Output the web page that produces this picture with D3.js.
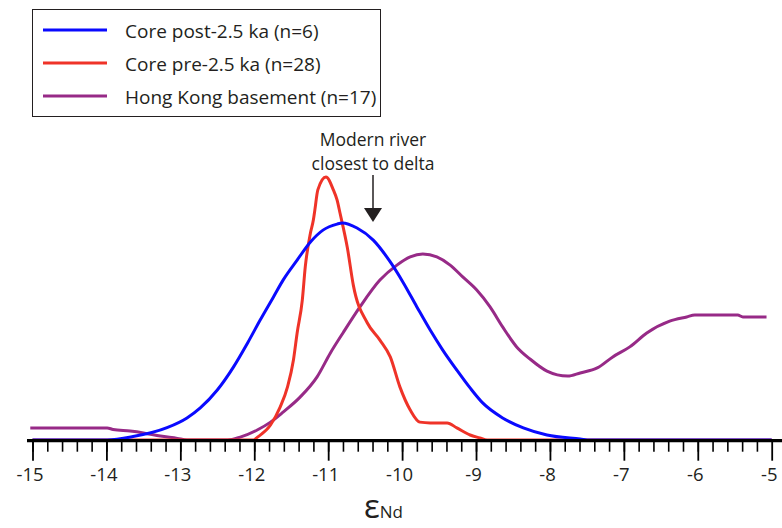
<!DOCTYPE html>
<html>
<head>
<meta charset="utf-8">
<script src="https://cdn.jsdelivr.net/npm/d3@7"></script>
<style>
  body { margin: 0; background: #fff; }
  text { font-family: "Open Sans", "DejaVu Sans", sans-serif; fill: #231f20; }
</style>
</head>
<body>
<svg id="chart" width="782" height="528"></svg>
<script>
// εNd values and relative probability density (arbitrary units, red peak = 100)
var postEps  = [-15, -13.99, -13.64, -13.18, -12.91, -12.73, -12.5, -12.28, -12.09, -11.92, -11.74, -11.61, -11.42, -11.24, -11.07, -10.88, -10.81, -10.61, -10.39, -10.16, -9.99, -9.8, -9.62, -9.45, -9.26, -9.08, -8.91, -8.64, -8.36, -8.04, -7.59, -7.46, -5];
var postDens = [0, 0, 1.3, 4.7, 8.4, 12.2, 19.0, 27.8, 36.9, 45.6, 54.4, 60.8, 68.4, 75.3, 79.8, 82.1, 82.5, 80.6, 76.0, 67.7, 60.1, 50.6, 41.8, 34.2, 26.6, 19.8, 14.1, 8.4, 4.6, 1.9, 0.4, 0, 0];

var preEps  = [-15, -12.01, -11.96, -11.78, -11.65, -11.55, -11.47, -11.42, -11.35, -11.31, -11.24, -11.2, -11.18, -11.14, -11.03, -10.93, -10.88, -10.84, -10.74, -10.66, -10.47, -10.3, -10.16, -10.03, -9.89, -9.76, -9.62, -9.39, -9.26, -9.08, -8.95, -8.85, -5];
var preDens = [0, 0, 1.0, 5.7, 12.5, 20.2, 30.4, 40.7, 53.2, 65.8, 78.7, 83.7, 87.5, 95.1, 100, 95.1, 91.3, 86.3, 73.0, 58.9, 44.5, 38.0, 31.6, 20.2, 11.4, 6.8, 6.5, 6.5, 4.6, 1.9, 0.8, 0, 0];

var hkEps  = [-15.03, -13.99, -13.91, -13.68, -13.5, -13.27, -13.04, -12.91, -12.36, -12.19, -11.96, -11.78, -11.61, -11.38, -11.15, -10.97, -10.8, -10.57, -10.3, -10.07, -9.89, -9.72, -9.53, -9.35, -9.18, -8.99, -8.81, -8.64, -8.45, -8.27, -8.04, -7.76, -7.59, -7.36, -7.15, -6.92, -6.69, -6.38, -6.15, -6.04, -5.46, -5.39, -5.07];
var hkDens = [4.6, 4.6, 4.0, 3.4, 2.7, 1.5, 0.6, 0, 0, 1.1, 3.8, 6.8, 10.6, 16.3, 24.0, 33.1, 40.7, 50.6, 60.8, 66.5, 69.6, 70.7, 69.6, 66.5, 62.0, 57.0, 50.6, 43.0, 35.4, 30.8, 26.2, 24.3, 25.5, 27.4, 31.6, 35.4, 40.7, 45.2, 46.8, 47.5, 47.5, 46.8, 46.8];

var seriesNames  = ["Core post-2.5 ka (n=6)", "Core pre-2.5 ka (n=28)", "Hong Kong basement (n=17)"];
var seriesColors = ["#0a0aff", "#ef3328", "#972a87"];
var majorTicks = d3.range(-15, -4, 1);
var minorTicks = d3.range(-15, -5.001, 0.2);
var noteLines = ["Modern river", "closest to delta"];

var svg = d3.select("#chart");

var x = d3.scaleLinear().domain([-15, -5]).range([32.5, 771.7]);
var y = d3.scaleLinear().domain([0, 100]).range([440, 177]);

var line = d3.line()
    .x(function(d) { return x(d[0]); })
    .y(function(d) { return y(d[1]); })
    .curve(d3.curveMonotoneX);

var series = [
    d3.zip(postEps, postDens),
    d3.zip(preEps, preDens),
    d3.zip(hkEps, hkDens)
];

// draw purple first, blue last
[2, 1, 0].forEach(function(i) {
    svg.append("path")
        .datum(series[i])
        .attr("d", line)
        .attr("fill", "none")
        .attr("stroke", seriesColors[i])
        .attr("stroke-width", 3)
        .attr("stroke-linejoin", "round");
});

// minor ticks
svg.append("g")
    .attr("transform", "translate(0,440.7)")
    .call(d3.axisBottom(x).tickValues(minorTicks).tickSize(11).tickFormat(""))
    .call(function(g) { g.select(".domain").remove(); })
    .selectAll("line").attr("stroke", "#000").attr("stroke-width", 1.6);

// major ticks with labels
var xAxis = svg.append("g")
    .attr("transform", "translate(0,440.7)")
    .call(d3.axisBottom(x).tickValues(majorTicks).tickSize(20).tickPadding(6).tickFormat(d3.format("d")));
xAxis.select(".domain").remove();
xAxis.selectAll("line").attr("stroke", "#000").attr("stroke-width", 1.8);
xAxis.selectAll("text")
    .style("font-size", "18.5px")
    .style("font-family", "'Open Sans', sans-serif")
    .attr("fill", "#231f20")
    .attr("x", -3)
    .attr("y", 34)
    .attr("dy", "0.36em")
    .text(function(d) { return d < 0 ? "-" + Math.abs(d) : d; });

// thick baseline
svg.append("line")
    .attr("x1", 27).attr("x2", 782)
    .attr("y1", 440.7).attr("y2", 440.7)
    .attr("stroke", "#000")
    .attr("stroke-width", 3.2);

// x axis title: εNd
var title = svg.append("text")
    .attr("x", 364).attr("y", 518);
title.append("tspan").style("font-size", "33px").text("ε");
title.append("tspan").style("font-size", "17px").text("Nd");

// annotation
svg.append("text")
    .attr("x", 373).attr("y", 145.5)
    .attr("text-anchor", "middle")
    .style("font-size", "17.5px")
    .selectAll("tspan")
    .data(noteLines)
    .enter().append("tspan")
    .attr("x", 373)
    .attr("dy", function(d, i) { return i === 0 ? 0 : 24; })
    .text(function(d) { return d; });
svg.append("line")
    .attr("x1", 373).attr("x2", 373)
    .attr("y1", 175).attr("y2", 209)
    .attr("stroke", "#231f20")
    .attr("stroke-width", 1.5);
svg.append("path")
    .attr("d", "M364,208 L382,208 L373,222 Z")
    .attr("fill", "#231f20");

// legend
var legend = svg.append("g");
legend.append("rect")
    .attr("x", 32.5).attr("y", 9.5)
    .attr("width", 348).attr("height", 107)
    .attr("fill", "#fff")
    .attr("stroke", "#231f20")
    .attr("stroke-width", 1);
var rows = legend.selectAll("g.row")
    .data(seriesNames)
    .enter().append("g")
    .attr("class", "row")
    .attr("transform", function(d, i) { return "translate(0," + (30 + i * 33) + ")"; });
rows.append("line")
    .attr("x1", 43).attr("x2", 107)
    .attr("stroke", function(d, i) { return seriesColors[i]; })
    .attr("stroke-width", 3);
rows.append("text")
    .attr("x", 125).attr("y", 1)
    .attr("dy", "0.35em")
    .style("font-size", "19px")
    .text(function(d) { return d; });
</script>
</body>
</html>
